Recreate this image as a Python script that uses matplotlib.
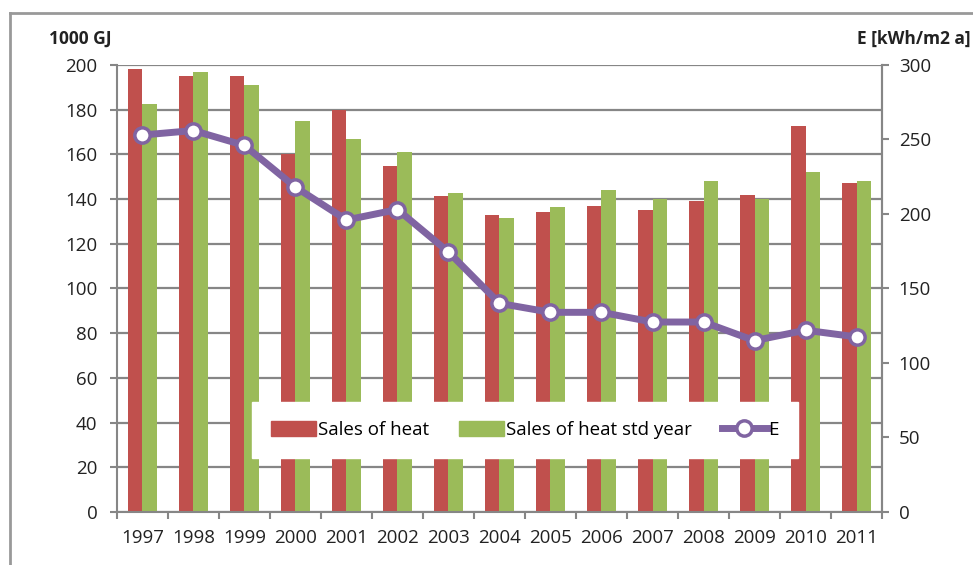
import matplotlib.pyplot as plt
import numpy as np
from matplotlib.lines import Line2D

plt.rcParams['font.family'] = ['Open Sans', 'DejaVu Sans']

years = ['1997', '1998', '1999', '2000', '2001', '2002', '2003', '2004',
         '2005', '2006', '2007', '2008', '2009', '2010', '2011']
sales_heat = [198, 195, 195, 160, 180, 155, 141.5, 133, 134, 137, 135, 139, 142, 172.5, 147]
sales_heat_std = [182.5, 197, 191, 175, 167, 161, 142.5, 131.5, 136.5, 144, 140, 148, 140, 152, 148]
e_values = [253, 256, 246, 218, 196, 203, 174.5, 140, 134, 134, 127.5, 127.5, 115, 122, 117.5]
left_ticks = list(range(0, 201, 20))
right_ticks = list(range(0, 301, 50))

red = '#C0504D'
green = '#9BBB59'
purple = '#8064A2'
grey = '#868686'
txt = '#222222'
fs = 13.5

fig = plt.figure(figsize=(9.73, 5.65), dpi=100)
ax = fig.add_axes([0.1202, 0.0938, 0.7863, 0.7912])

x = np.arange(len(years))
w = 0.28
ax.bar(x - w / 2, sales_heat, w, color=red, zorder=2)
ax.bar(x + w / 2, sales_heat_std, w, color=green, zorder=2)

ax.set_xlim(-0.5, len(years) - 0.5)
ax.set_ylim(0, 200)
ax.set_yticks(left_ticks)
ax.set_axisbelow(True)
ax.grid(True, axis='y', color=grey, linewidth=1.6)
# thin bands under each gridline so the rules stay visible at any scale
for v in left_ticks[1:]:
    ax.axhspan(v - 0.35, v + 0.35, color=grey, linewidth=0, zorder=1)

ax.set_xticks(x)
ax.set_xticklabels(years)
ax.set_xticks(np.arange(-0.5, len(years), 1), minor=True)
ax.tick_params(axis='x', which='major', length=0, pad=12, labelsize=fs, labelcolor=txt)
ax.tick_params(axis='x', which='minor', length=5, width=1.5, color=grey, direction='out')
ax.tick_params(axis='y', length=5, width=1.5, color=grey, labelsize=fs, labelcolor=txt, pad=9)

ax.spines['top'].set_visible(False)
for s in ['left', 'bottom', 'right']:
    ax.spines[s].set_color(grey)
    ax.spines[s].set_linewidth(1.5)

ax2 = ax.twinx()
ax2.patch.set_visible(False)
ax2.plot(x, e_values, color=purple, linewidth=5, marker='o', markersize=11,
         markerfacecolor='white', markeredgecolor=purple, markeredgewidth=2.5, zorder=3)
ax2.set_ylim(0, 300)
ax2.set_yticks(right_ticks)
ax2.tick_params(axis='y', length=5, width=1.5, color=grey, labelsize=fs, labelcolor=txt, pad=7)
for s in ['top', 'left', 'bottom']:
    ax2.spines[s].set_visible(False)
ax2.spines['right'].set_color(grey)
ax2.spines['right'].set_linewidth(1.5)

fig.text(49 / 973, 1 - 39 / 565, '1000 GJ', fontsize=12.5, fontweight='bold',
         color=txt, va='center', ha='left')
fig.text(971 / 973, 1 - 39 / 565, 'E [kWh/m2 a]', fontsize=12.5, fontweight='bold',
         color=txt, va='center', ha='right')

handles = [
    plt.Rectangle((0, 0), 1, 1, color=red),
    plt.Rectangle((0, 0), 1, 1, color=green),
    Line2D([0], [0], color=purple, linewidth=5, marker='o', markersize=11,
           markerfacecolor='white', markeredgecolor=purple, markeredgewidth=2.5),
]
leg = ax2.legend(handles, ['Sales of heat', 'Sales of heat std year', 'E'],
                 ncol=3, loc='center', bbox_to_anchor=(525 / 973, 1 - 430 / 565),
                 bbox_transform=fig.transFigure, frameon=True, fancybox=False,
                 fontsize=fs, handlelength=2.4, handleheight=0.8, columnspacing=1.6,
                 handletextpad=0.1, borderpad=1.0)
leg.get_frame().set_edgecolor('white')
leg.get_frame().set_facecolor('white')
leg.get_frame().set_alpha(1)
leg.set_zorder(10)

# outer chart frame
fig.add_artist(Line2D([10 / 973, 10 / 973], [0, 1 - 13 / 565], color='#999999',
                      linewidth=2, transform=fig.transFigure))
fig.add_artist(Line2D([10 / 973, 1], [1 - 13 / 565, 1 - 13 / 565], color='#999999',
                      linewidth=2, transform=fig.transFigure))

fig.savefig('out.png', dpi=100)
